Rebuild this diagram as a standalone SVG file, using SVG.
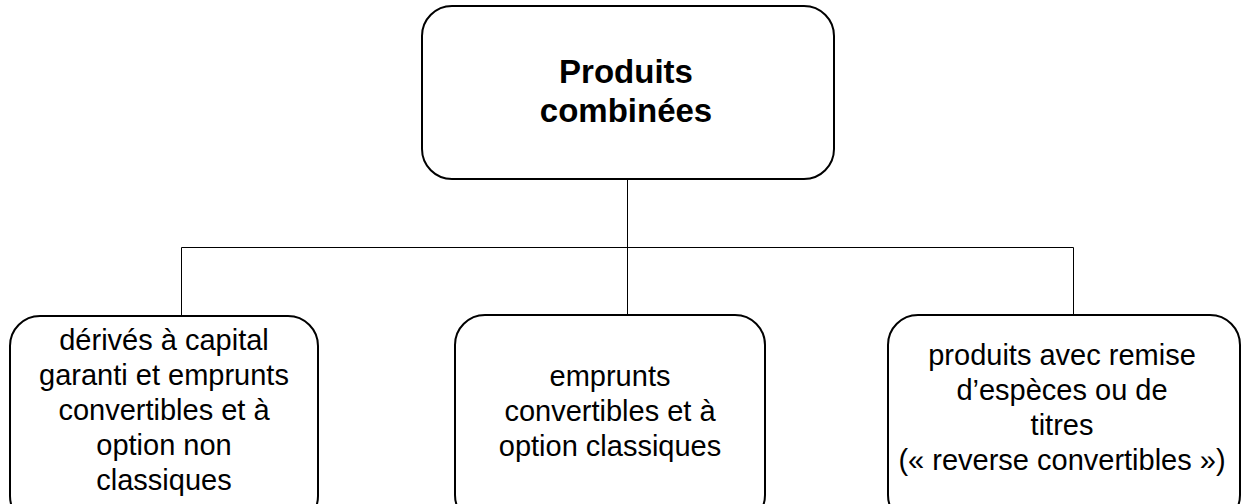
<svg xmlns="http://www.w3.org/2000/svg" width="1242" height="504" viewBox="0 0 1242 504">
<style>
.box{fill:#fff;stroke:#000;stroke-width:2}
.ln{fill:none;stroke:#000;stroke-width:1}
text{font-family:"Liberation Sans",Arial,sans-serif;fill:#000;text-anchor:middle}
.t{font-size:29px}
.b{font-size:33px;font-weight:bold}
</style>
<rect width="1242" height="504" fill="#fff"/>
<g id="connectors">
<path class="ln" d="M627.5 179V247.5M181.5 247.5H1073.5M181.5 247.5V316M627.5 247.5V315M1073.5 247.5V315"/>
</g>
<g id="root">
<rect class="box" x="422" y="6" width="412" height="173" rx="30"/>
<text class="b" x="626" y="83">Produits</text>
<text class="b" x="626" y="122">combinées</text>
</g>
<g id="left">
<rect class="box" x="10" y="316" width="308" height="210" rx="30"/>
<text class="t" x="164" y="350">dérivés à capital</text>
<text class="t" x="164" y="385">garanti et emprunts</text>
<text class="t" x="164" y="420">convertibles et à</text>
<text class="t" x="164" y="455">option non</text>
<text class="t" x="164" y="490">classiques</text>
</g>
<g id="middle">
<rect class="box" x="455" y="315" width="310" height="210" rx="30"/>
<text class="t" x="610" y="386">emprunts</text>
<text class="t" x="610" y="421">convertibles et à</text>
<text class="t" x="610" y="456">option classiques</text>
</g>
<g id="right">
<rect class="box" x="888" y="315" width="352" height="210" rx="30"/>
<text class="t" x="1062" y="365">produits avec remise</text>
<text class="t" x="1062" y="400">d’espèces ou de</text>
<text class="t" x="1062" y="435">titres</text>
<text class="t" x="1062" y="470">(« reverse convertibles »)</text>
</g>
</svg>
